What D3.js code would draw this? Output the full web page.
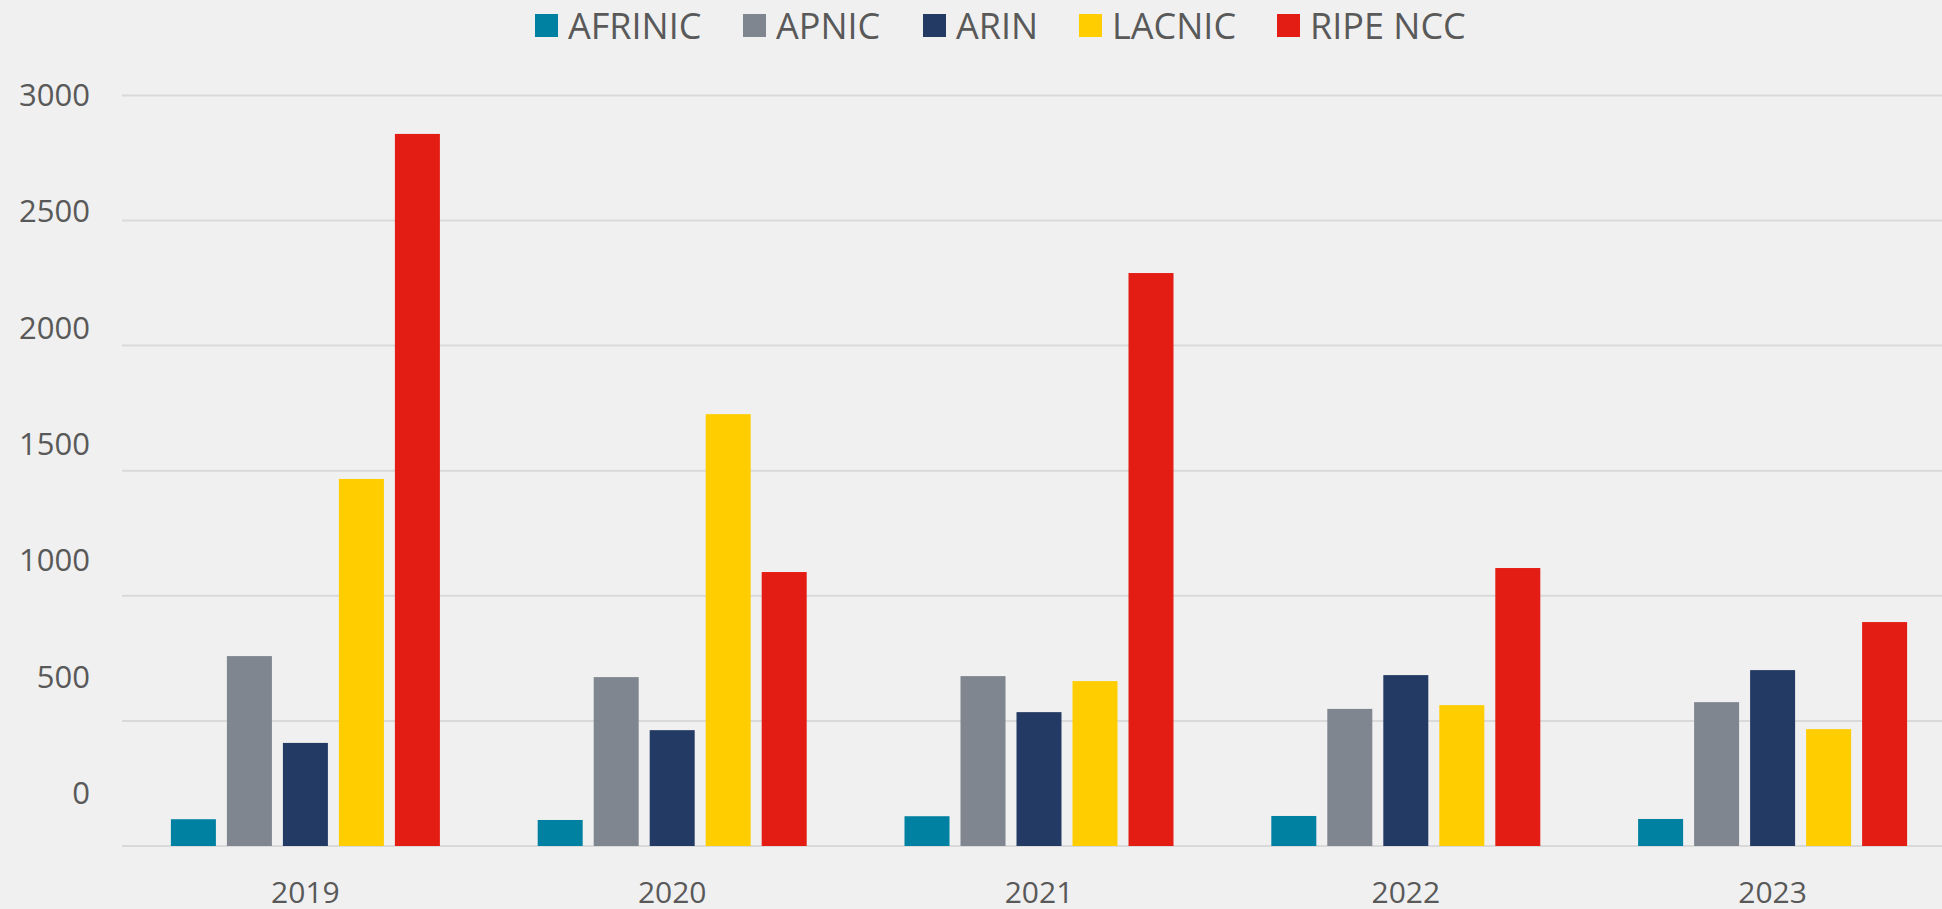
<!DOCTYPE html>
<meta charset="utf-8">
<head>
  <title>RIR bars</title>
</head>

<style>
body {
  margin: 0;
  background: #f0f0f0;
  font-family: "Open Sans", "Noto Sans", sans-serif;
  color: #595959;
}
svg { display: block; }
</style>

<body>
  <div id="chart"></div>

  <script src="https://cdnjs.cloudflare.com/ajax/libs/d3/7.8.5/d3.min.js"></script>

  <script>
// years on the x axis
var years = ['2019', '2020', '2021', '2022', '2023'];

// registries, in legend order
var registries = ['AFRINIC', 'APNIC', 'ARIN', 'LACNIC', 'RIPE NCC'];
var colours = ['#0081a1', '#7f868f', '#233a64', '#ffcd00', '#e41d14'];

// one array per registry, values per year
var afrinic = [107, 104, 119, 120, 108];
var apnic   = [759, 675, 679, 548, 575];
var arin    = [412, 463, 535, 683, 703];
var lacnic  = [1467, 1726, 659, 563, 467];
var ripe    = [2846, 1095, 2290, 1111, 895];

var yTicks = [0, 500, 1000, 1500, 2000, 2500, 3000];

var series = [afrinic, apnic, arin, lacnic, ripe];

var width = 1942, height = 909;

var svg = d3.select('#chart').append('svg')
  .attr('width', width)
  .attr('height', height);

svg.append('rect')
  .attr('width', width)
  .attr('height', height)
  .attr('fill', '#f0f0f0');

var x0 = d3.scaleBand()
  .domain(years)
  .range([122, 1956]);

var x1 = d3.scaleBand()
  .domain(registries)
  .range([0, 269])
  .paddingInner(11 / 56);

var groupOffset = (x0.bandwidth() - 269) / 2;

var y = d3.scaleLinear()
  .domain([0, 3000])
  .range([846, 95.4]);

// the tick labels in the original sit on their own, tighter spacing
var yLabel = d3.scaleLinear()
  .domain([0, 3000])
  .range([793, 95]);

// gridlines
svg.append('g')
  .selectAll('line')
  .data(yTicks)
  .join('line')
  .attr('x1', 122)
  .attr('x2', width)
  .attr('y1', function(d) { return y(d); })
  .attr('y2', function(d) { return y(d); })
  .attr('stroke', '#d9d9d9')
  .attr('stroke-width', 2);

// y labels
svg.append('g')
  .selectAll('text')
  .data(yTicks)
  .join('text')
  .attr('x', 90)
  .attr('y', function(d) { return yLabel(d); })
  .attr('dy', '0.36em')
  .attr('text-anchor', 'end')
  .attr('font-size', 31)
  .attr('fill', '#595959')
  .text(function(d) { return d; });

// bars
var groups = svg.append('g')
  .selectAll('g')
  .data(years)
  .join('g')
  .attr('transform', function(d) { return 'translate(' + (x0(d) + groupOffset) + ',0)'; });

groups.selectAll('rect')
  .data(function(d, i) {
    return registries.map(function(r, j) { return {key: r, value: series[j][i], colour: colours[j]}; });
  })
  .join('rect')
  .attr('x', function(d) { return x1(d.key); })
  .attr('width', x1.bandwidth())
  .attr('y', function(d) { return y(d.value); })
  .attr('height', function(d) { return y(0) - y(d.value); })
  .attr('fill', function(d) { return d.colour; });

// x labels
svg.append('g')
  .selectAll('text')
  .data(years)
  .join('text')
  .attr('x', function(d) { return x0(d) + x0.bandwidth() / 2; })
  .attr('y', 903)
  .attr('text-anchor', 'middle')
  .attr('font-size', 30)
  .attr('fill', '#595959')
  .text(function(d) { return d; });

// legend
var legendX = [535, 743, 923, 1079, 1277];
var legend = svg.append('g')
  .selectAll('g')
  .data(registries)
  .join('g')
  .attr('transform', function(d, i) { return 'translate(' + legendX[i] + ',0)'; });

legend.append('rect')
  .attr('y', 14)
  .attr('width', 23)
  .attr('height', 23)
  .attr('fill', function(d, i) { return colours[i]; });

legend.append('text')
  .attr('x', 33)
  .attr('y', 26)
  .attr('dy', '0.36em')
  .attr('font-size', 36)
  .attr('fill', '#595959')
  .text(function(d) { return d; });
  </script>
</body>
</html>
